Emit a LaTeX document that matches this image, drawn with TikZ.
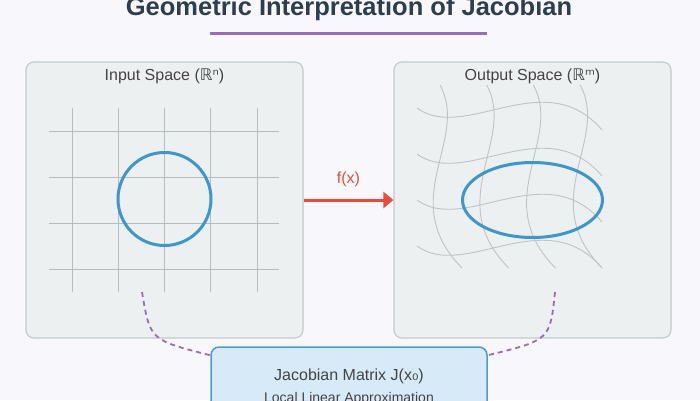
\documentclass[tikz,border=0pt]{standalone}
\usepackage{fontspec}
\setmainfont{Liberation Sans}
\newfontfamily\symfont{DejaVu Sans}
\usetikzlibrary{arrows.meta}
\definecolor{bgc}{HTML}{F8F8FC}
\definecolor{panelfill}{HTML}{ECF0F1}
\definecolor{panelline}{HTML}{C4C9CC}
\definecolor{gridc}{HTML}{BBBBBB}
\definecolor{curvec}{HTML}{C2C2C2}
\definecolor{bluec}{HTML}{3A97D0}
\definecolor{redc}{HTML}{E74C3C}
\definecolor{purplec}{HTML}{9B6BB5}
\definecolor{titlec}{HTML}{2C3E50}
\definecolor{textc}{HTML}{444444}
\definecolor{jacfill}{HTML}{D6EAF8}
\definecolor{jacline}{HTML}{4A9BD6}
\tikzset{
  panel/.style={draw=panelline, fill=panelfill, line width=1.2pt, rounded corners=8pt,
    minimum width=277pt, minimum height=276pt, inner sep=0pt},
  paneltitle/.style={text=textc, font=\fontsize{16}{19}\selectfont, inner sep=0pt},
  gridline/.style={draw=gridc, line width=0.9pt},
  warpline/.style={draw=curvec, line width=0.9pt},
  shapeline/.style={draw=bluec, line width=3pt},
  maparrow/.style={draw=redc, line width=3pt, -{Triangle[length=10pt,width=16pt]}},
  fxlabel/.style={text=redc, font=\fontsize{16}{19}\selectfont, inner sep=0pt},
  dashlink/.style={draw=purplec, line width=1.8pt, dash pattern=on 5pt off 4pt},
  jacbox/.style={draw=jacline, fill=jacfill, line width=1.5pt, rounded corners=8pt,
    minimum width=276pt, minimum height=80pt, inner sep=0pt},
}
\begin{document}
\begin{tikzpicture}[x=1pt,y=-1pt]
\useasboundingbox (0,0) rectangle (700,400);
\clip (0,0) rectangle (700,400);
\fill[bgc] (0,0) rectangle (700,400);

% title
\node[anchor=base, text=titlec, font=\fontsize{25.5}{30}\bfseries, inner sep=0pt] (title) at (349,15.5) {Geometric Interpretation of Jacobian};
\coordinate (ulL) at (210,33);
\coordinate (ulR) at (487,33);
\draw[draw=purplec, line width=3pt] (ulL) -- (ulR);

% panels
\node[panel] (inp) at (164.5,200) {};
\node[panel] (outp) at (532.5,200) {};
\node[paneltitle, anchor=base] (inpt) at (164.5,80.5) {Input Space ({\symfont ℝⁿ})};
\node[paneltitle, anchor=base] (outpt) at (532.5,80.5) {Output Space ({\symfont ℝᵐ})};

% input grid
\foreach \i in {0,...,4} {
  \draw[gridline] ({72+46.25*\i},108) -- ({72+46.25*\i},292);
}
\foreach \j in {0,...,3} {
  \draw[gridline] (49,{131+46*\j}) -- (279,{131+46*\j});
}
\node[shapeline, circle, minimum size=93pt, inner sep=0pt] (circ) at (164.5,199) {};

% output warped grid
\foreach \j in {0,...,3} {
  \pgfmathsetmacro{\yy}{108+46*\j}
  \draw[warpline] (417,\yy) .. controls (465,\yy+35) and (545,\yy-45) .. (602,\yy+22);
}
\foreach \i in {0,...,3} {
  \pgfmathsetmacro{\xx}{440+46.7*\i}
  \draw[warpline] (\xx,85) .. controls (\xx+30,140) and (\xx-45,200) .. (\xx+22,268);
}
\draw[shapeline] (532.5,200) ellipse [x radius=70, y radius=37.5];

% mapping arrow
\draw[maparrow] (inp.east) -- (outp.west);
\node[fxlabel, anchor=base] (fx) at (348.5,183) {f(x)};

% jacobian box
\node[jacbox] (jac) at (349,387) {};
\node[anchor=base, text=textc, font=\fontsize{16}{19}\selectfont, inner sep=0pt] (jact) at (349,380) {Jacobian Matrix J(x{\symfont ₀})};
\node[anchor=base, text=textc, font=\fontsize{14}{17}\selectfont, inner sep=0pt] (jacs) at (349,402.5) {Local Linear Approximation};

% dashed links
\coordinate (inpd) at (142,292);
\coordinate (outpd) at (555,292);
\draw[dashlink] (inpd) .. controls (150,340) .. ([yshift=-9pt]jac.north west);
\draw[dashlink] (outpd) .. controls (550,340) .. ([yshift=-9pt]jac.north east);
\end{tikzpicture}
\end{document}
